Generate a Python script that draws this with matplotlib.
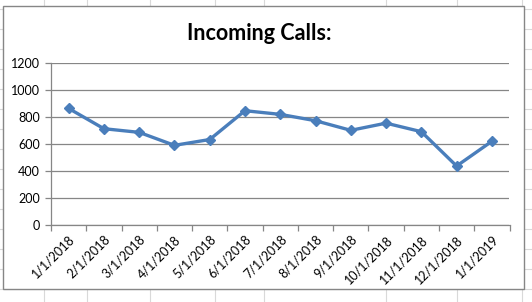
import numpy as np
import matplotlib.pyplot as plt
from matplotlib.patches import Rectangle
from matplotlib.lines import Line2D

# data
dates = ["1/1/2018", "2/1/2018", "3/1/2018", "4/1/2018", "5/1/2018", "6/1/2018",
         "7/1/2018", "8/1/2018", "9/1/2018", "10/1/2018", "11/1/2018", "12/1/2018",
         "1/1/2019"]
calls = [862, 712, 685, 589, 632, 845, 818, 771, 700, 753, 690, 436, 619]
y_ticks = [0, 200, 400, 600, 800, 1000, 1200]

W, H = 532, 302
fig = plt.figure(figsize=(W / 100, H / 100), dpi=100)
fig.patch.set_facecolor("white")


def fx(px):
    return px / W


def fy(py):
    return 1 - py / H


# faint spreadsheet cell lines behind the chart
cell_col = "#d9d9d9"
for cx in [44, 86.5, 150, 214.5, 264, 386, 457, 521.5]:
    fig.add_artist(Line2D([fx(cx), fx(cx)], [0, 1], color=cell_col, lw=0.8, zorder=0))
for ry in np.arange(9.3, H, 20):
    fig.add_artist(Line2D([0, 1], [fy(ry), fy(ry)], color=cell_col, lw=0.8, zorder=0))

# chart area box
fig.add_artist(Rectangle((fx(3.3), fy(289)), fx(524 - 3.3), (289 - 6.3) / H,
                         transform=fig.transFigure, facecolor="white",
                         edgecolor="#868686", lw=1.0, zorder=1))

ax = fig.add_axes([fx(51), fy(225), fx(509.5 - 51), (225 - 62.7) / H], zorder=2)
ax.set_facecolor("none")

x = np.arange(len(dates))
ax.plot(x, calls, color="#4a7ebb", lw=2.4, marker="D", markersize=5.5,
        markerfacecolor="#4a7ebb", markeredgecolor="#4a7ebb", zorder=3)

ax.set_xlim(-0.5, len(dates) - 0.5)
ax.set_ylim(0, 1200)
ax.set_yticks(y_ticks)
ax.yaxis.grid(True, color="#868686", lw=0.9)
ax.set_axisbelow(True)

ax.set_xticks(x)
ax.set_xticklabels(dates, rotation=45, ha="right", rotation_mode="anchor",
                   fontsize=9, family="Lato")
ax.set_xticks(np.arange(-0.5, len(dates)), minor=True)
ax.tick_params(axis="x", which="major", length=0, pad=6)
ax.tick_params(axis="x", which="minor", length=4, color="#868686", width=0.9)
ax.tick_params(axis="y", length=4, color="#868686", width=0.9, pad=4, labelsize=9)
for lab in ax.get_yticklabels():
    lab.set_family("Lato")

for side in ["top", "right"]:
    ax.spines[side].set_visible(False)
for side in ["left", "bottom"]:
    ax.spines[side].set_color("#868686")
    ax.spines[side].set_linewidth(0.9)

fig.text(fx(259.5), fy(33), "Incoming Calls:", ha="center", va="center",
         fontsize=15.5, fontweight="bold", family="Lato", zorder=3)

fig.savefig("out.png", dpi=100)
